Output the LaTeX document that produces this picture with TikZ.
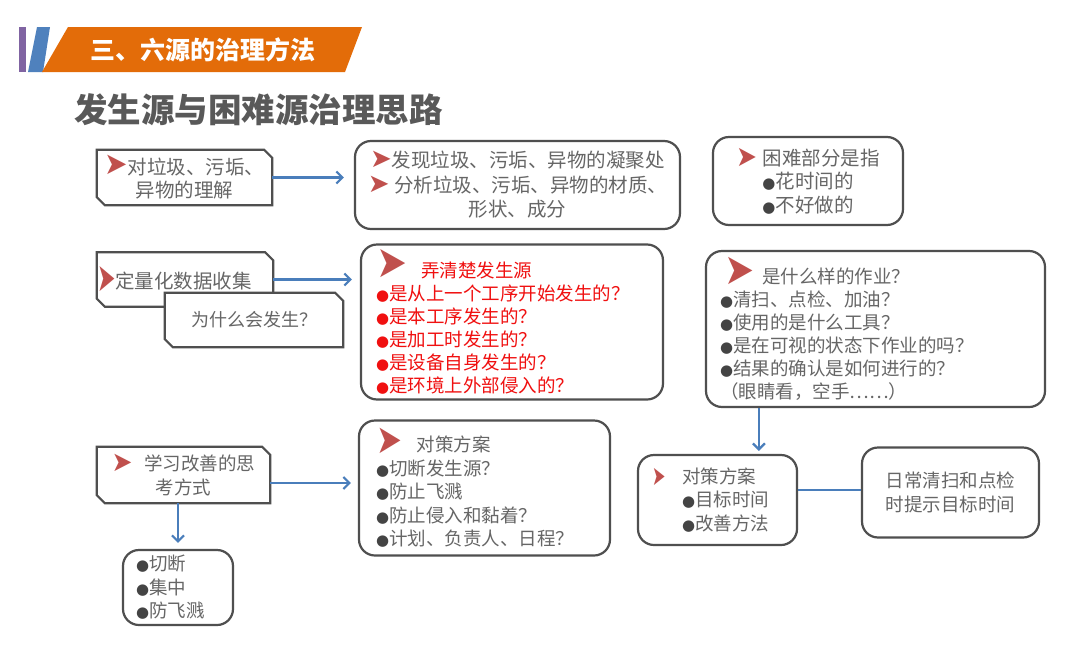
\documentclass[tikz,border=0pt]{standalone}
\usepackage{fontspec}
\setmainfont{Noto Sans CJK SC}
\newfontfamily\sym{DejaVu Sans}
\usetikzlibrary{arrows.meta,backgrounds}
\definecolor{bd}{HTML}{4F4F4F}
\definecolor{tx}{HTML}{666666}
\definecolor{bl}{HTML}{444444}
\definecolor{mk}{HTML}{C0504D}
\definecolor{rd}{HTML}{F01010}
\definecolor{ar}{HTML}{4A7EBB}
\definecolor{hdo}{HTML}{E36C09}
\definecolor{hdb}{HTML}{4F81BD}
\definecolor{hdp}{HTML}{8064A2}
\definecolor{ttl}{HTML}{595959}
\newcommand\mkr[2][1.2]{{\color{mk}\sym\fontsize{#2}{10}\selectfont\raisebox{-\fpeval{0.22*(#1-1)}em}{\scalebox{1}[#1]{➤}}}}
\newcommand\bul{{\color{bl}\sym\fontsize{15}{10}\selectfont ●}}
\newcommand\rbul{{\sym\fontsize{15}{10}\selectfont ●}}
\newcommand\snip[1]{\path[sline] (#1.north west) -- ([xshift=-8pt]#1.north east) -- ([yshift=-8pt]#1.north east) -- (#1.south east) -- ([xshift=8pt]#1.south west) -- ([yshift=8pt]#1.south west) -- cycle;}
\begin{document}
\begin{tikzpicture}[x=1pt,y=-1pt,
  every node/.style={font=\fontsize{18.5}{23.5}\selectfont, text=tx, inner sep=0pt},
  rbox/.style={draw=bd, line width=2.2pt, rounded corners=16pt, fill=white},
  sline/.style={draw=bd, line width=2.2pt, fill=white},
  conn/.style={draw=ar, line width=2.2pt},
  arr/.style={conn, -{Straight Barb[length=6pt,width=12pt]}},
  big/.style={font=\fontsize{19.5}{23.5}\selectfont},
  tight/.style={font=\fontsize{18.5}{23}\selectfont}
]
\useasboundingbox (0,0) rectangle (1080,654);
% header
\fill[hdp] (19,27) rectangle (26,72);
\fill[hdb] (28,72) -- (37,27) -- (50,27) -- (43,72) -- cycle;
\fill[hdo] (42,72) -- (68,27) -- (362,27) -- (345,72) -- cycle;
\node[text=white, font=\fontsize{25}{25}\selectfont\bfseries, anchor=west] (hdr) at (90,50) {三、六源的治理方法};
\node[text=ttl, font=\fontsize{33.5}{34}\selectfont\bfseries, anchor=west] (ttl) at (74,110) {发生源与困难源治理思路};
% row 1
\node[big, minimum width=175pt, minimum height=55pt, align=center] (b1) at (184.5,177.5) {\mkr[1.1]{28}对垃圾、污垢、\\异物的理解};
\node[rbox, font=\fontsize{19.5}{24.5}\selectfont, minimum width=325pt, minimum height=88pt, align=center] (b2) at (517.5,185) {\mkr[1.0]{26}发现垃圾、污垢、异物的凝聚处\\\mkr[1.0]{26} 分析垃圾、污垢、异物的材质、\\形状、成分};
\node[rbox, big, minimum width=190pt, minimum height=88pt, align=center] (b3) at (808,181) {\mkr[1.15]{25}\hspace{6pt}困难部分是指\\\bul 花时间的\\\bul 不好做的};
% row 2
\node[big, minimum width=176pt, minimum height=54pt, text width=176pt, align=left] (b4) at (185,279.5) {\mkr[1.8]{22}定量化数据收集};
\node[font=\fontsize{18}{23}\selectfont, minimum width=178pt, minimum height=54pt, align=center] (b5) at (254,320) {为什么会发生？};
\node[rbox, tight, text=rd, minimum width=302pt, minimum height=155pt, text width=272pt, inner xsep=15pt, align=left] (b6) at (512,322) {\raisebox{2pt}{\mkr[1.2]{37}}\hspace{14pt}弄清楚发生源\\\rbul 是从上一个工序开始发生的？\\\rbul 是本工序发生的？\\\rbul 是加工时发生的？\\\rbul 是设备自身发生的？\\\rbul 是环境上外部侵入的？};
\node[rbox, tight, minimum width=339pt, minimum height=156pt, text width=311pt, inner xsep=14pt, align=left] (b7) at (875.5,329) {\hspace*{4pt}\mkr[1.2]{36}\hspace{8pt}是什么样的作业？\\\bul 清扫、点检、加油？\\\bul 使用的是什么工具？\\\bul 是在可视的状态下作业的吗？\\\bul 结果的确认是如何进行的？\\（眼睛看，空手……）};
% row 3
\node[minimum width=173pt, minimum height=56pt, align=center] (b8) at (183.5,475) {\mkr[1.1]{25}\hspace{12pt}学习改善的思\\考方式};
\node[rbox, minimum width=251pt, minimum height=135pt, text width=217pt, inner xsep=17pt, align=left] (b9) at (484.5,488) {\mkr[1.3]{31}\hspace{15pt}对策方案\\\bul 切断发生源？\\\bul 防止飞溅\\\bul 防止侵入和黏着？\\\bul 计划、负责人、日程？};
\node[rbox, minimum width=110pt, minimum height=75pt, text width=84pt, inner xsep=13pt, align=left] (b10) at (178,587.5) {\bul 切断\\\bul 集中\\\bul 防飞溅};
\node[rbox, minimum width=159pt, minimum height=90pt, text width=131pt, inner xsep=14pt, align=left] (b11) at (717.5,500) {\mkr[1.7]{16}\hspace{17pt}对策方案\\\hspace*{30pt}\bul 目标时间\\\hspace*{30pt}\bul 改善方法};
\node[rbox, minimum width=177pt, minimum height=90pt, align=center] (b12) at (950.5,492.5) {日常清扫和点检\\时提示目标时间};
% connectors
\draw[arr, shorten >=10pt] (b1.east) -- (b1.east -| b2.west);
\draw[arr, shorten >=8pt] (b4.east) -- (b4.east -| b6.west);
\draw[arr, shorten >=3pt] ([xshift=54pt]b7.south west) -- ([xshift=54pt]b7.south west |- b11.north);
\draw[arr, shorten >=7pt] ([yshift=-8pt]b8.east) -- ([yshift=-8pt]b8.east -| b9.west);
\draw[arr, shorten >=6pt] (b8.south -| b10.north) -- (b10.north);
\draw[conn] ([yshift=10pt]b11.east) -- ([yshift=10pt]b11.east -| b12.west);
\begin{pgfonlayer}{background}
\fill[white] (0,0) rectangle (1080,654);
\snip{b1}\snip{b4}\snip{b5}\snip{b8}
\end{pgfonlayer}
\end{tikzpicture}
\end{document}
